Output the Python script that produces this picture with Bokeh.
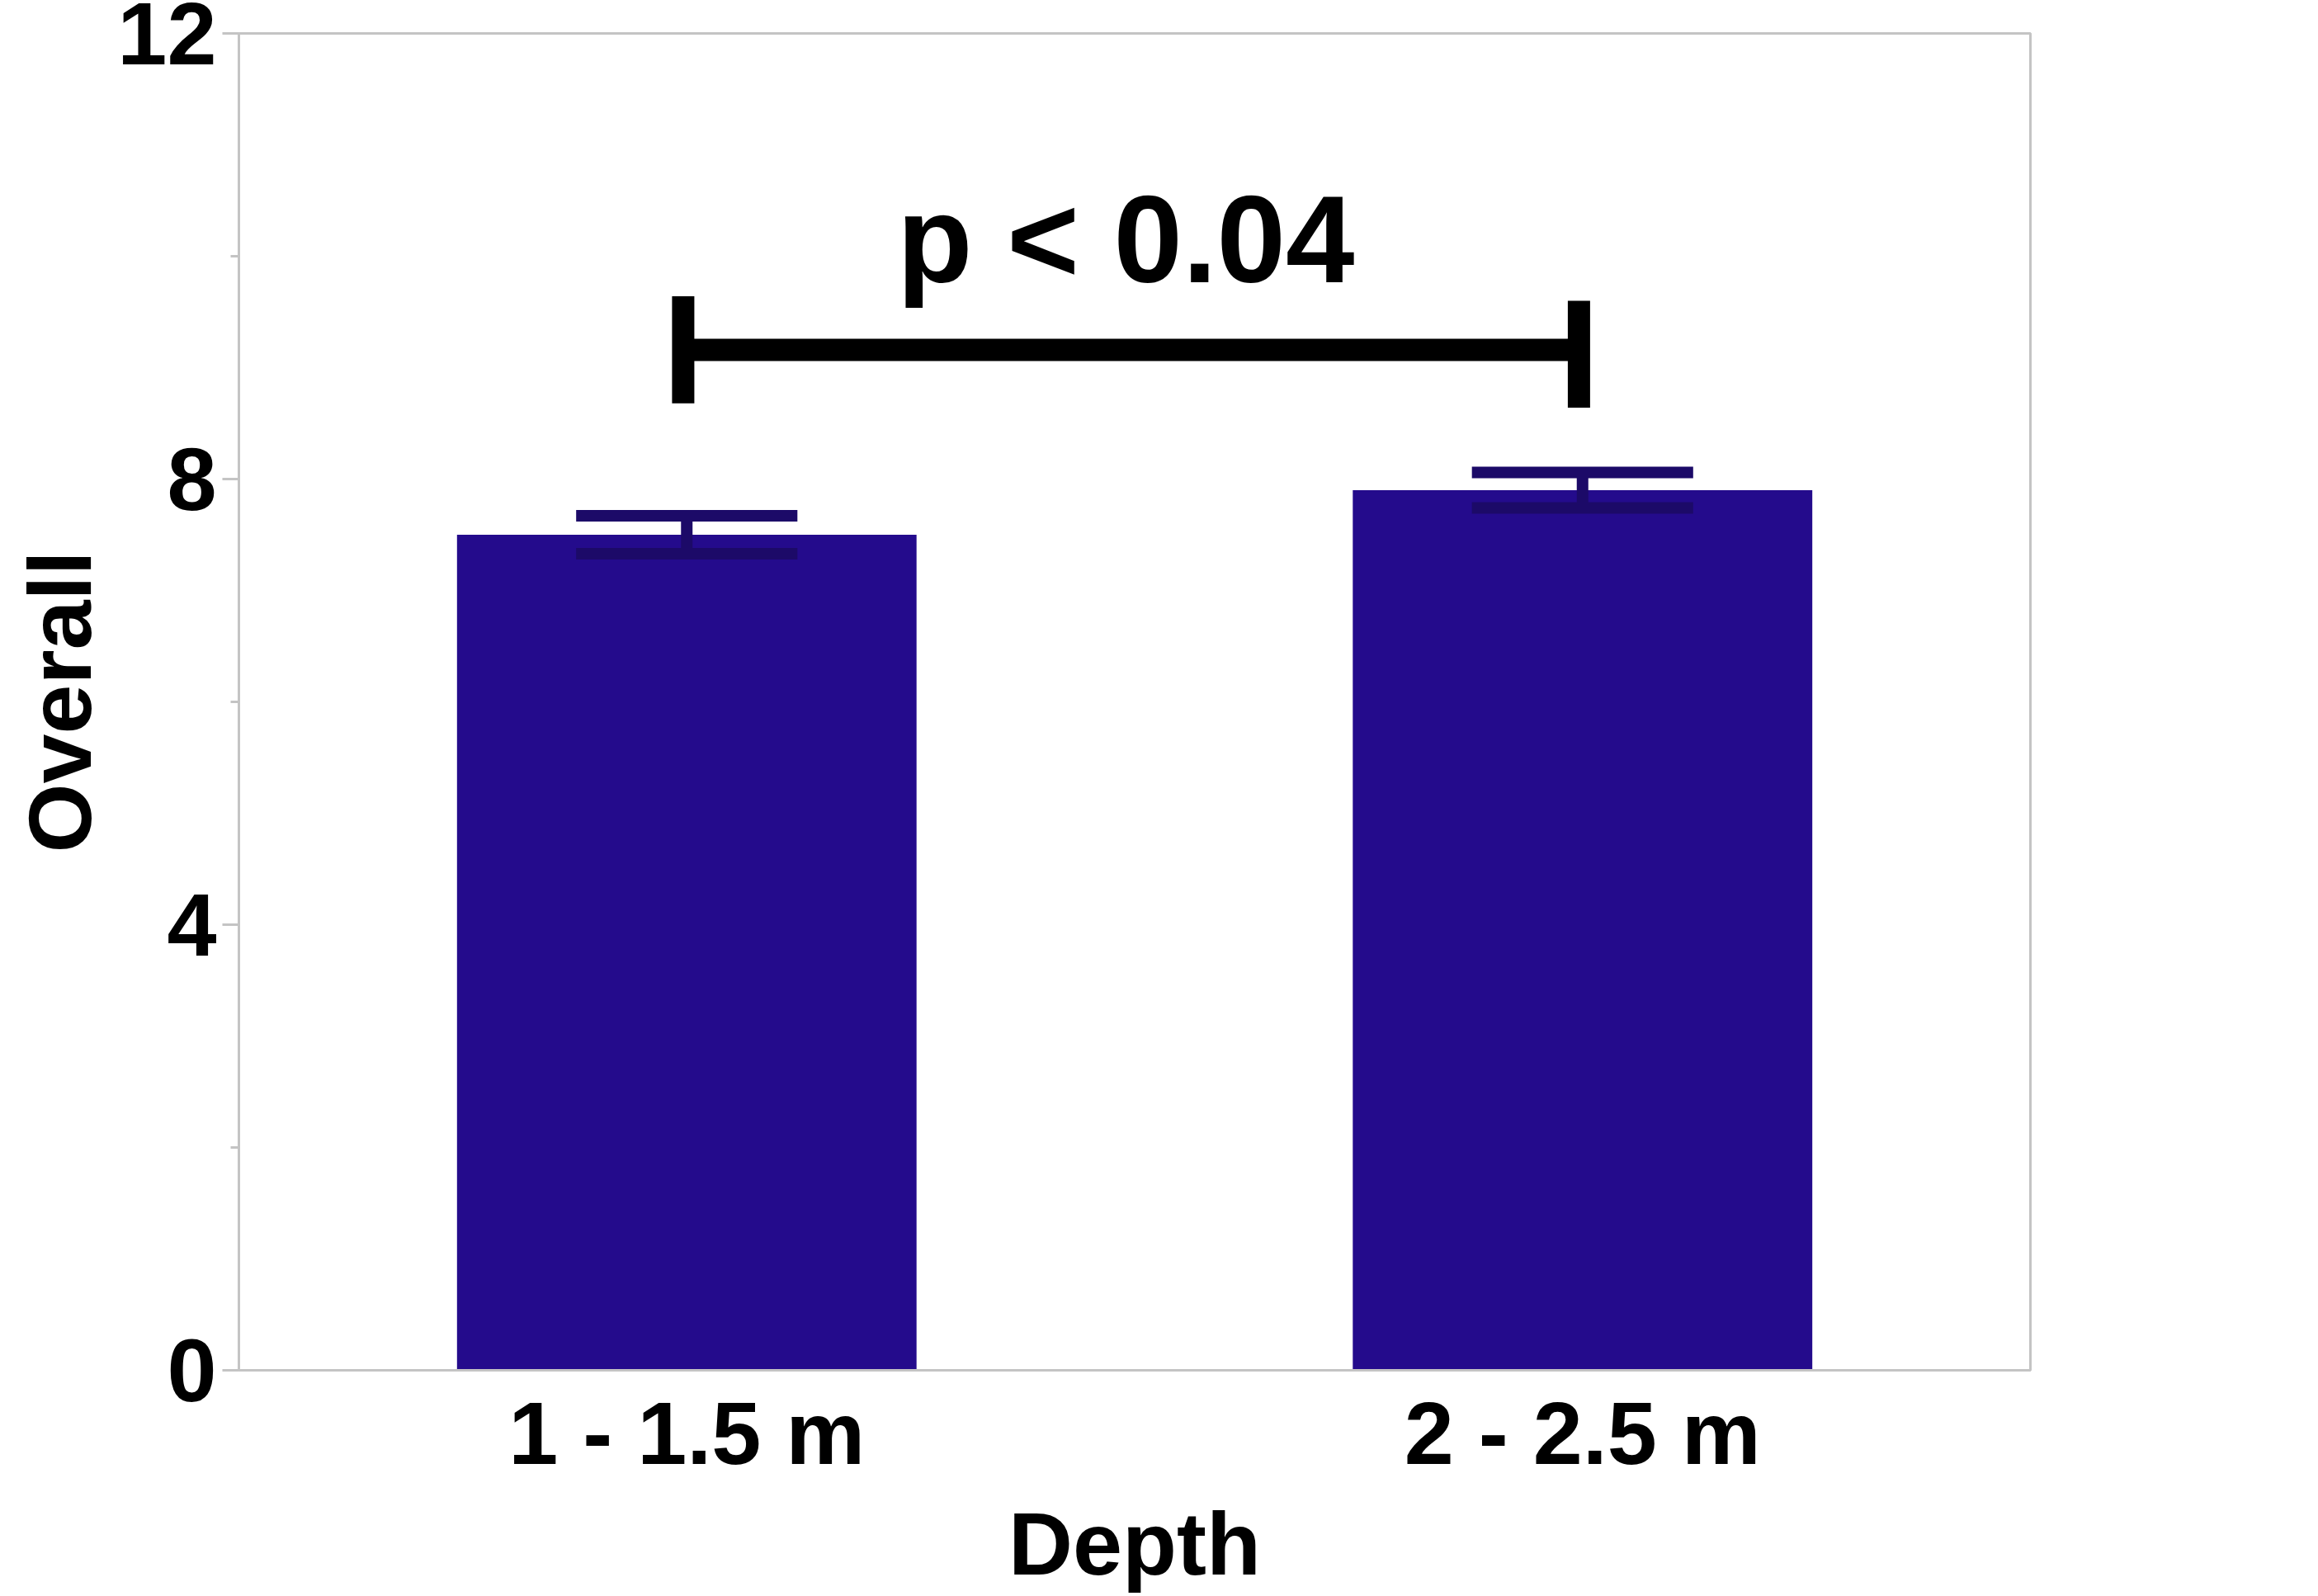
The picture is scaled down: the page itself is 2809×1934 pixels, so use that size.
from bokeh.plotting import figure
from bokeh.models import FactorRange, Range1d, FixedTicker, ColumnDataSource
from bokeh.core.properties import value
from bokeh.embed import file_html
from bokeh.resources import INLINE

# ---- data ----
categories = ["1 - 1.5 m", "2 - 2.5 m"]
overall = [7.5, 7.9]
overall_err = [0.17, 0.16]
y_ticks = [0, 4, 8, 12]
y_minor_ticks = [2, 6, 10]
sig_level = 9.16
sig_cap = 0.48
p_text = "p < 0.04"
p_text_y = 10.15

FONT = "Liberation Sans"
BAR = "#240B8C"
ERR = "#1C0A68"
GREY = "#C4C4C4"

p = figure(
    x_range=FactorRange(*categories, range_padding=0),
    y_range=Range1d(0, 12),
    frame_width=2171, frame_height=1620,
    min_border_left=289, min_border_top=40, min_border_right=333, min_border_bottom=258,
    output_backend="svg", toolbar_location=None,
    x_axis_label="Depth", y_axis_label="Overall",
)
p.background_fill_color = "white"
p.border_fill_color = "white"
p.xgrid.visible = False
p.ygrid.visible = False
p.outline_line_color = GREY
p.outline_line_width = 3

# axes
for ax in (p.xaxis[0], p.yaxis[0]):
    ax.axis_line_color = GREY
    ax.axis_line_width = 3
    ax.major_label_text_font = FONT
    ax.major_label_text_font_style = "bold"
    ax.major_label_text_font_size = "108px"
    ax.major_label_text_color = "black"
    ax.axis_label_text_font = FONT
    ax.axis_label_text_font_style = "bold"
    ax.axis_label_text_font_size = "108px"
    ax.axis_label_text_color = "black"

p.yaxis.ticker = FixedTicker(ticks=y_ticks, minor_ticks=y_minor_ticks)
p.yaxis.major_tick_out = 20
p.yaxis.major_tick_in = 0
p.yaxis.minor_tick_out = 10
p.yaxis.minor_tick_in = 0
p.yaxis.major_tick_line_color = GREY
p.yaxis.minor_tick_line_color = GREY
p.yaxis.major_tick_line_width = 3
p.yaxis.minor_tick_line_width = 3
p.yaxis.major_label_standoff = 7
p.yaxis.axis_label_standoff = 6

p.xaxis.major_tick_line_color = None
p.xaxis.minor_tick_line_color = None
p.xaxis.major_tick_out = 0
p.xaxis.major_label_standoff = 15
p.xaxis.axis_label_standoff = 10

src = ColumnDataSource(dict(
    cat=categories,
    top=overall,
    lo=[v - e for v, e in zip(overall, overall_err)],
    hi=[v + e for v, e in zip(overall, overall_err)],
    capl=[(c, -0.1235) for c in categories],
    capr=[(c, 0.1235) for c in categories],
))

p.vbar(x="cat", top="top", bottom=0, width=0.513, source=src,
       fill_color=BAR, line_color=None)

# error bars
p.segment(x0="cat", y0="lo", x1="cat", y1="hi", source=src,
          line_color=ERR, line_width=14)
p.segment(x0="capl", y0="hi", x1="capr", y1="hi", source=src,
          line_color=ERR, line_width=14, line_cap="butt")
p.segment(x0="capl", y0="lo", x1="capr", y1="lo", source=src,
          line_color=ERR, line_width=14, line_cap="butt")

# significance bracket
left = (categories[0], -0.004)
right = (categories[1], -0.004)
p.segment(x0=[left], y0=[sig_level], x1=[right], y1=[sig_level],
          line_color="black", line_width=27, line_cap="butt")
p.segment(x0=[left, right], y0=[sig_level - sig_cap, sig_level - sig_cap - 0.04],
          x1=[left, right], y1=[sig_level + sig_cap, sig_level + sig_cap - 0.04],
          line_color="black", line_width=27, line_cap="butt")
p.text(x=[(categories[0], 0.49)], y=[p_text_y], text=[p_text],
       text_font=value(FONT), text_font_style="bold", text_font_size="150px",
       text_align="center", text_baseline="alphabetic", text_color="black")

open("out.html", "w").write(file_html(p, INLINE))
